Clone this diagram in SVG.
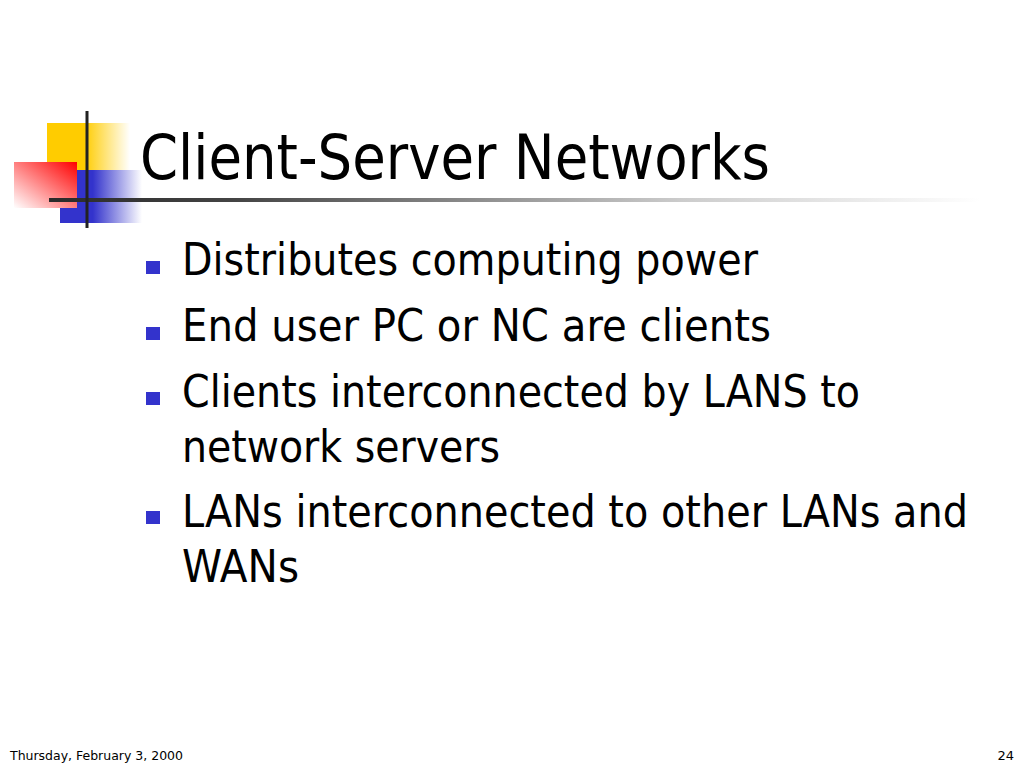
<svg xmlns="http://www.w3.org/2000/svg" width="1024" height="768" viewBox="0 0 1024 768">
<defs>
<linearGradient id="gY" x1="0" y1="0" x2="1" y2="0">
<stop offset="0" stop-color="#FFCC00"/><stop offset="0.45" stop-color="#FFCC00"/><stop offset="1" stop-color="#FFCC00" stop-opacity="0"/>
</linearGradient>
<linearGradient id="gB" x1="0" y1="0" x2="1" y2="0">
<stop offset="0" stop-color="#3333CC"/><stop offset="0.4" stop-color="#3333CC"/><stop offset="1" stop-color="#3333CC" stop-opacity="0"/>
</linearGradient>
<linearGradient id="gR" x1="1" y1="0" x2="0" y2="1">
<stop offset="0" stop-color="#FF0000"/><stop offset="1" stop-color="#FFFFFF"/>
</linearGradient>
<linearGradient id="gL" gradientUnits="userSpaceOnUse" x1="49" y1="0" x2="980" y2="0">
<stop offset="0" stop-color="#2a2a2a"/><stop offset="0.2" stop-color="#444"/><stop offset="0.68" stop-color="#ccc"/><stop offset="1" stop-color="#fff"/>
</linearGradient>
<style>
.t{font-family:"DejaVu Sans","Liberation Sans",sans-serif;fill:#000}
.b{font-size:44px}
.bul{fill:#3333CC}
.f{font-size:13px}
</style>
</defs>
<rect width="1024" height="768" fill="#fff"/>
<g id="logo">
<rect x="47" y="123" width="83" height="47" fill="url(#gY)"/>
<rect x="60" y="170" width="82" height="53" fill="url(#gB)"/>
<rect x="14" y="162" width="63" height="46" fill="url(#gR)"/>
<rect x="49" y="198" width="931" height="4" fill="url(#gL)"/>
<rect x="85.5" y="111" width="3" height="117" fill="#222"/>
</g>
<g id="title">
<text class="t" x="140" y="179" font-size="63" textLength="630" lengthAdjust="spacingAndGlyphs">Client-Server Networks</text>
</g>
<g id="bullets">
<rect class="bul" x="146" y="261" width="14" height="13"/>
<text class="t b" x="182" y="275" textLength="576" lengthAdjust="spacingAndGlyphs">Distributes computing power</text>
<rect class="bul" x="146" y="327" width="14" height="13"/>
<text class="t b" x="182" y="341" textLength="589" lengthAdjust="spacingAndGlyphs">End user PC or NC are clients</text>
<rect class="bul" x="146" y="392" width="14" height="13"/>
<text class="t b" x="182" y="407" textLength="678" lengthAdjust="spacingAndGlyphs">Clients interconnected by LANS to</text>
<text class="t b" x="182" y="462" textLength="318" lengthAdjust="spacingAndGlyphs">network servers</text>
<rect class="bul" x="146" y="511" width="14" height="13"/>
<text class="t b" x="182" y="527" textLength="786" lengthAdjust="spacingAndGlyphs">LANs interconnected to other LANs and</text>
<text class="t b" x="182" y="582" textLength="117" lengthAdjust="spacingAndGlyphs">WANs</text>
</g>
<g id="footer">
<text class="t f" x="10" y="760" textLength="173" lengthAdjust="spacingAndGlyphs">Thursday, February 3, 2000</text>
<text class="t f" x="1014" y="760" text-anchor="end">24</text>
</g>
</svg>
